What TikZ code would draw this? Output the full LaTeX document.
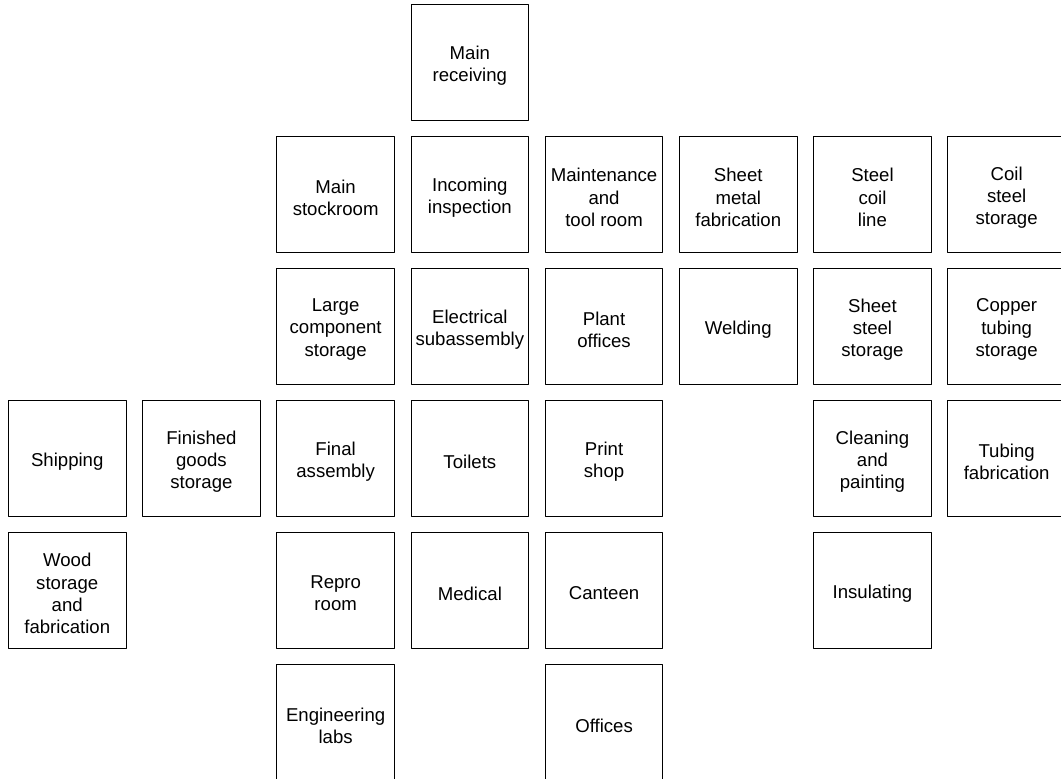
\documentclass[tikz,border=0pt]{standalone}
\usepackage{fontspec}
\setmainfont{Liberation Sans}

\begin{document}
\begin{tikzpicture}[x=134.2pt, y=-132pt, every node/.style={font=\fontsize{18.6}{22.2}\selectfont}, line cap=round, line join=round]
  \tikzset{dept/.style={draw=black, line width=1pt, minimum width=117.5pt, minimum height=116pt, inner sep=0pt},
    deptname/.style={align=center, inner sep=0pt, yshift=-3.5pt}}
  \useasboundingbox (0pt,0pt) rectangle (1061pt,-779pt);

  \begin{scope}[shift={(67.25pt,-62pt)}]
    % receiving and upper rows
    \foreach \x/\y/\n/\t in {3/0/recv/{Main\\receiving},
        2/1/stock/{Main\\stockroom}, 3/1/inspect/{Incoming\\inspection},
        4/1/maint/{Maintenance\\and\\tool room}, 5/1/sheetfab/{Sheet\\metal\\fabrication},
        6/1/coilline/{Steel\\coil\\line}, 7/1/coilstore/{Coil\\steel\\storage},
        2/2/largecomp/{Large\\component\\storage}, 3/2/elec/{Electrical\\subassembly},
        4/2/plantoff/{Plant\\offices}, 5/2/weld/{Welding},
        6/2/sheetstore/{Sheet\\steel\\storage}, 7/2/copper/{Copper\\tubing\\storage}} {
      \node[dept, label={[deptname]center:{\t}}] (\n) at (\x,\y) {};
    }

    % lower rows
    \foreach \x/\y/\n/\t in {0/3/ship/{Shipping}, 1/3/finished/{Finished\\goods\\storage},
        2/3/final/{Final\\assembly}, 3/3/toilets/{Toilets}, 4/3/print/{Print\\shop},
        6/3/paint/{Cleaning\\and\\painting}, 7/3/tubefab/{Tubing\\fabrication},
        0/4/wood/{Wood\\storage\\and\\fabrication}, 2/4/repro/{Repro\\room},
        3/4/medical/{Medical}, 4/4/canteen/{Canteen}, 6/4/insul/{Insulating},
        2/5/englabs/{Engineering\\labs}, 4/5/offices/{Offices}} {
      \node[dept, label={[deptname]center:{\t}}] (\n) at (\x,\y) {};
    }
  \end{scope}
\end{tikzpicture}
\end{document}
